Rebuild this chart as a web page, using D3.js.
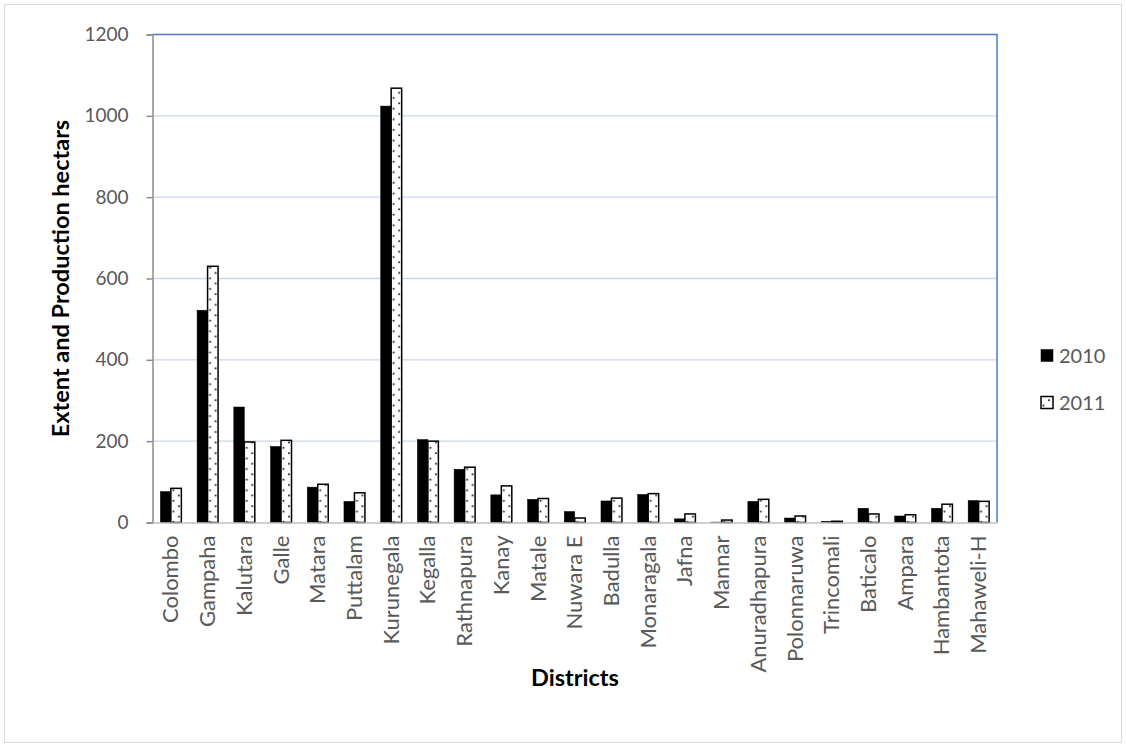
<!DOCTYPE html>
<html>
<head>
<meta charset="utf-8">
<script src="https://cdn.jsdelivr.net/npm/d3@7"></script>
<style>
  html, body { margin: 0; padding: 0; background: #fff; }
  svg { display: block; }
  text { font-family: Lato, "Open Sans", sans-serif; }
</style>
</head>
<body>
<svg id="chart" width="1126" height="747"></svg>
<script>
// District extent and production (hectares), 2010 vs 2011
const districts = ["Colombo", "Gampaha", "Kalutara", "Galle", "Matara", "Puttalam",
  "Kurunegala", "Kegalla", "Rathnapura", "Kanay", "Matale", "Nuwara E", "Badulla",
  "Monaragala", "Jafna", "Mannar", "Anuradhapura", "Polonnaruwa", "Trincomali",
  "Baticalo", "Ampara", "Hambantota", "Mahaweli-H"];
const values2010 = [76, 522, 284, 187, 87, 52, 1024, 204, 131, 68, 57, 27, 53,
  69, 9, 1, 52, 11, 3, 35, 16, 35, 54];
const values2011 = [84, 630, 198, 202, 94, 73, 1068, 200, 136, 90, 59, 11, 60,
  71, 21, 6, 57, 16, 3, 21, 19, 45, 52];
const seriesNames = ["2010", "2011"];
const yTicks = [0, 200, 400, 600, 800, 1000, 1200];

const svg = d3.select("#chart");
const W = 1126, H = 747;
const plot = { left: 152.5, right: 997, top: 34.5, bottom: 522.5 };

// outer chart frame
svg.append("rect")
  .attr("x", 4.5).attr("y", 4.5)
  .attr("width", W - 9).attr("height", H - 9)
  .attr("fill", "#fff").attr("stroke", "#d9d9d9").attr("stroke-width", 1);

const x0 = d3.scaleBand().domain(districts).range([plot.left, plot.right]).padding(0);
const x1 = d3.scaleBand().domain(seriesNames).range([0, x0.bandwidth()])
  .paddingInner(0).paddingOuter(0.75);
const y = d3.scaleLinear().domain([0, 1200]).range([plot.bottom, plot.top]);

// dotted fill for the 2011 series: two staggered dot columns per bar
const defs = svg.append("defs");
function dotPattern(id, offsetX) {
  const p = defs.append("pattern")
    .attr("id", id)
    .attr("patternUnits", "userSpaceOnUse")
    .attr("x", offsetX)
    .attr("width", 12).attr("height", 10.6);
  p.append("rect").attr("width", 12).attr("height", 10.6).attr("fill", "#fff");
  p.append("circle").attr("cx", 2.5).attr("cy", 2.6).attr("r", 1).attr("fill", "#1a1a1a");
  p.append("circle").attr("cx", 8).attr("cy", 7.9).attr("r", 1).attr("fill", "#1a1a1a");
}
dotPattern("dots", x1("2011"));
dotPattern("dotsLegend", 1041);

// gridlines
svg.append("g")
  .selectAll("line")
  .data(yTicks.filter(t => t > 0 && t < 1200))
  .join("line")
  .attr("x1", plot.left).attr("x2", plot.right)
  .attr("y1", d => y(d)).attr("y2", d => y(d))
  .attr("stroke", "#c9d7ec").attr("stroke-width", 1.3);

// plot-area border (top / right)
svg.append("path")
  .attr("d", `M${plot.left},${plot.top}H${plot.right}V${plot.bottom}`)
  .attr("fill", "none").attr("stroke", "#4a7bc8").attr("stroke-width", 1.5);

// bars
const rows = districts.map((d, i) => ({ district: d, vals: [values2010[i], values2011[i]] }));
const groups = svg.append("g").selectAll("g")
  .data(rows).join("g")
  .attr("transform", d => `translate(${x0(d.district)},0)`);

groups.selectAll("rect")
  .data(d => d.vals.map((v, k) => ({ key: seriesNames[k], v })))
  .join("rect")
  .attr("x", d => x1(d.key))
  .attr("width", x1.bandwidth())
  .attr("y", d => y(d.v))
  .attr("height", d => y(0) - y(d.v))
  .attr("fill", d => d.key === "2010" ? "#000" : "url(#dots)")
  .attr("stroke", "#000")
  .attr("stroke-width", d => d.key === "2010" ? 0.5 : 1.5);

// y axis
const yAxis = svg.append("g")
  .attr("transform", `translate(${plot.left},0)`)
  .call(d3.axisLeft(y).tickValues(yTicks).tickSize(6).tickPadding(18).tickFormat(d3.format("d")));
yAxis.select(".domain").attr("stroke", "#8c8c8c").attr("stroke-width", 1.5);
yAxis.selectAll(".tick line").attr("stroke", "#8c8c8c").attr("stroke-width", 1.5);
yAxis.selectAll(".tick text")
  .attr("fill", "#595959").style("font-size", "19px").style("font-family", "Lato, sans-serif");

// x axis
const xAxis = svg.append("g")
  .attr("transform", `translate(0,${plot.bottom})`)
  .call(d3.axisBottom(x0).tickSize(0).tickPadding(0));
xAxis.select(".domain").attr("stroke", "#bfbfbf").attr("stroke-width", 1.5);
xAxis.selectAll(".tick text")
  .attr("fill", "#595959")
  .style("font-size", "22px").style("font-family", "Lato, sans-serif")
  .attr("text-anchor", "end")
  .attr("dy", null)
  .attr("y", 0)
  .attr("transform", "translate(7.5,13) rotate(-90)");

// axis titles
svg.append("text")
  .attr("transform", `translate(69,${(plot.top + plot.bottom) / 2}) rotate(-90)`)
  .attr("text-anchor", "middle")
  .style("font-size", "23.5px").style("font-weight", "bold")
  .attr("fill", "#000")
  .text("Extent and Production hectars");

svg.append("text")
  .attr("x", 575).attr("y", 686)
  .attr("text-anchor", "middle")
  .style("font-size", "23.5px").style("font-weight", "bold")
  .attr("fill", "#000")
  .text("Districts");

// legend
const legend = svg.append("g");
seriesNames.forEach((s, i) => {
  const ly = 356 + i * 47;
  legend.append("rect")
    .attr("x", 1041).attr("y", ly - 6.5)
    .attr("width", 12).attr("height", 12)
    .attr("fill", i === 0 ? "#000" : "url(#dotsLegend)")
    .attr("stroke", "#000").attr("stroke-width", i === 0 ? 0.5 : 1.5);
  legend.append("text")
    .attr("x", 1059).attr("y", ly).attr("dy", "0.35em")
    .attr("fill", "#595959")
    .style("font-size", "20px")
    .text(s);
});
</script>
</body>
</html>
